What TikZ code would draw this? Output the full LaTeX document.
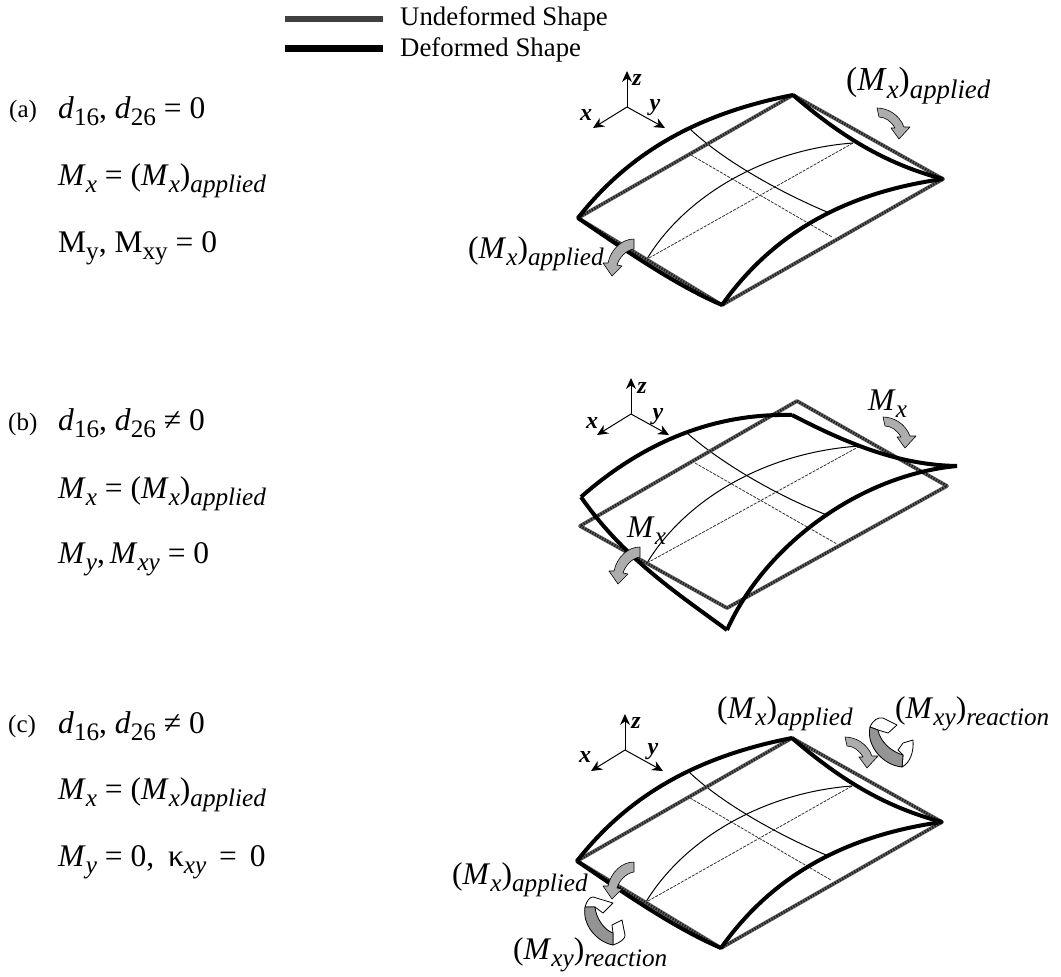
\documentclass[tikz,border=0pt]{standalone}
\usepackage{fontspec}
\usepackage{graphicx}
\usetikzlibrary{calc,arrows.meta}
\setmainfont{Liberation Serif}
\newcommand\sbs[1]{\raisebox{-.25em}{\scalebox{.8}{#1}}}
\newcommand\MxApplied{(\textit{M}\sbs{\textit{x}})\sbs{\textit{applied}}}
\newcommand\MxyReaction{(\textit{M}\sbs{\textit{xy}})\sbs{\textit{reaction}}}
\newcommand\Mx{\textit{M}\sbs{\textit{x}}}
\tikzset{
 undef/.style={draw=black!60,line width=3.8pt,line join=round,
   postaction={draw=black!88,line width=2.6pt,dash pattern=on 1.4pt off 1.4pt}},
 defm/.style={draw=black,line width=4pt,line join=miter},
 thinl/.style={draw=black,line width=1pt},
 dashl/.style={draw=black!80,line width=.8pt,dash pattern=on 3pt off 1.2pt},
 axis/.style={draw=black,line width=1pt,-{Stealth[length=11pt,width=10pt]}},
 eq/.style={anchor=base west,inner sep=0pt,font=\fontsize{31.5}{34}\selectfont},
 lab/.style={anchor=base west,inner sep=0pt,font=\fontsize{31.5}{33}\selectfont},
 laba/.style={anchor=base west,inner sep=0pt,font=\fontsize{33.5}{35}\selectfont},
 tag/.style={anchor=base west,inner sep=0pt,font=\fontsize{25}{27}\selectfont},
 leg/.style={anchor=base west,inner sep=0pt,font=\fontsize{26.8}{28}\selectfont},
 ax/.style={inner sep=0pt,font=\fontsize{24}{26}\selectfont\bfseries\itshape},
 mom/.style={draw=black,line width=.6pt,fill=black!32,line join=round},
 rib/.style={draw=black,line width=.8pt,fill=white,line join=round},
 band/.style={draw=black,line width=.8pt,fill=black!42,line join=round},
}
\newcommand\AxesAt[5]{%
 \coordinate (#1o) at (#2);
 \coordinate (#1z) at ($(#2)+(0,-36)$);
 \coordinate (#1x) at ($(#2)+(-34,21)$);
 \coordinate (#1y) at ($(#2)+(38,21)$);
 \draw[axis] (#1o) -- (#1z);
 \draw[axis] (#1o) -- (#1x);
 \draw[axis] (#1o) -- (#1y);
 \node[ax] (#1zl) at ($(#2)+(#3)$) {z};
 \node[ax] (#1xl) at ($(#2)+(#4)$) {x};
 \node[ax] (#1yl) at ($(#2)+(#5)$) {y};
}
\newcommand\MomR[1]{%
 \begin{scope}[shift={(#1)}]
 \draw[mom] (-8,-14) .. controls (2,-14) and (14,-8) .. (19,5) -- (25,5) -- (14,17) -- (6,6) -- (10,6)
   .. controls (6,-1) and (0,-5) .. (-6,-5) -- cycle;
 \end{scope}}
\newcommand\MomL[1]{%
 \begin{scope}[shift={(#1)}]
 \draw[mom] (14,-19) .. controls (2,-19) and (-9,-9) .. (-12,5) -- (-17,5) -- (-8,18) -- (2,8) -- (-3,7)
   .. controls (-1,0) and (6,-8) .. (14,-9) -- cycle;
 \end{scope}}
\newcommand\PanelFlat{%
 \coordinate (T) at (793,95); \coordinate (R) at (943,179);
 \coordinate (B) at (722,305); \coordinate (L) at (578,218);
 \draw[dashl] (691,155) -- (832,237);
 \draw[dashl] (649,258) -- (853,143);
 \draw[thinl] (689,128) .. controls (720,158) and (775,190) .. (827,212);
 \draw[thinl] (644,264) .. controls (680,200) and (760,150) .. (853,143);
 \draw[undef] (T) -- (R) -- (B) -- (L) -- cycle;
 \draw[defm] (L) .. controls (625,158) and (690,115) .. (T);
 \draw[defm] (T) .. controls (845,140) and (890,165) .. (R);
 \draw[defm] (R) .. controls (850,192) and (775,230) .. (B);
 \draw[defm] (B) .. controls (675,285) and (622,248) .. (L);
}
\begin{document}
\begin{tikzpicture}[x=1pt,y=-1pt]
\useasboundingbox (0,0) rectangle (1061,977);
% legend
\coordinate (l1a) at (285,19); \coordinate (l1b) at (383,19);
\coordinate (l2a) at (285,48); \coordinate (l2b) at (383,48);
\draw[draw=black!75,line width=6pt] (l1a) -- (l1b);
\draw[draw=black,line width=7pt] (l2a) -- (l2b);
\node[leg] (legU) at (400,25) {Undeformed Shape};
\node[leg] (legD) at (400,56) {Deformed Shape};
% left text a
\node[tag] (ta) at (9,117) {(a)};
\node[eq] (a1) at (58,118) {\textit{d}\sbs{16}, \textit{d}\sbs{26} = 0};
\node[eq] (a2) at (58,185) {\Mx{} = \MxApplied};
\node[eq] (a3) at (58,252) {M\sbs{y}, M\sbs{xy} = 0};
% left text b
\node[tag] (tb) at (8,430) {(b)};
\node[eq] (b1) at (58,430) {\textit{d}\sbs{16}, \textit{d}\sbs{26} ≠ 0};
\node[eq] (b2) at (58,498) {\Mx{} = \MxApplied};
\node[eq] (b3) at (58,563) {\textit{M}\sbs{\textit{y}},\kern-3pt{} \textit{M}\sbs{\textit{xy}} = 0};
% left text c
\node[tag] (tc) at (8,732) {(c)};
\node[eq] (c1) at (58,733) {\textit{d}\sbs{16}, \textit{d}\sbs{26} ≠ 0};
\node[eq] (c2) at (58,799) {\Mx{} = \MxApplied};
\node[eq] (c3) at (58,866) {\textit{M}\sbs{\textit{y}} = 0,\kern6pt{} κ\sbs{\textit{xy}}\kern5pt{} = \kern5pt{}0};
% panel a
\PanelFlat
\AxesAt{a}{627,107}{10,-27}{-41,8}{28,1}
\MomR{885,122}
\MomL{620,258}
\node[laba] (la1) at (846,90) {\MxApplied};
\node[lab] (la2) at (468,258) {\MxApplied};
% panel b
\coordinate (uT) at (797,401); \coordinate (uR) at (947,486);
\coordinate (uB) at (727,608); \coordinate (uL) at (580,526);
\coordinate (dT) at (792,415); \coordinate (dR) at (957,466);
\coordinate (dB) at (727,630); \coordinate (dL) at (581,497);
\draw[dashl] (695,463) -- (837,544);
\draw[dashl] (647,563) -- (860,446);
\draw[thinl] (687,433) .. controls (720,462) and (775,495) .. (827,515);
\draw[thinl] (647,563) .. controls (685,500) and (765,452) .. (860,446);
\draw[undef] (uT) -- (uR) -- (uB) -- (uL) -- cycle;
\draw[defm] (dL) .. controls (640,445) and (710,413) .. (dT);
\draw[defm] (dT) .. controls (850,445) and (900,465) .. (dR);
\draw[defm] (dR) .. controls (860,475) and (765,545) .. (dB);
\draw[defm] (dB) .. controls (680,595) and (625,560) .. (dL);
\AxesAt{b}{631,414}{11,-26}{-39,9}{27,3}
\MomR{891,431}
\MomL{626,566}
\node[lab] (lb1) at (868,410) {\Mx};
\node[lab] (lb2) at (627,537) {\Mx};
% panel c
\begin{scope}[shift={(-1,643)}]
\PanelFlat
\end{scope}
\AxesAt{c}{625,750}{11,-27}{-40,7}{28,2}
\MomR{853,751}
\MomL{620,881}
% reaction arrow, upper right
\draw[rib] (870,727) .. controls (873,720) and (878,717) .. (883,718) -- (897,725) -- (888,733) -- (878,730) -- cycle;
\draw[rib] (902,767) .. controls (910,763) and (914,752) .. (913,740) -- (903,743) -- (898,750) -- (903,755) -- cycle;
\draw[band] (870,727) .. controls (866,745) and (882,765) .. (902,767) -- (903,755)
  .. controls (892,752) and (880,742) .. (878,730) -- cycle;
% reaction arrow, lower left
\draw[rib] (585,907) .. controls (587,900) and (590,897) .. (593,897) -- (613,903) -- (603,913) -- (595,907) -- cycle;
\draw[rib] (613,945) .. controls (620,943) and (626,938) .. (625,935) -- (622,920) -- (612,925) -- (613,933) -- cycle;
\draw[band] (585,907) .. controls (582,925) and (597,942) .. (613,945) -- (613,933)
  .. controls (604,930) and (596,918) .. (595,907) -- cycle;
\node[lab] (lc1) at (717,718) {\MxApplied};
\node[lab] (lc2) at (895,718) {\MxyReaction};
\node[lab] (lc3) at (452,884) {\MxApplied};
\node[lab] (lc4) at (513,959) {\MxyReaction};
\end{tikzpicture}
\end{document}
